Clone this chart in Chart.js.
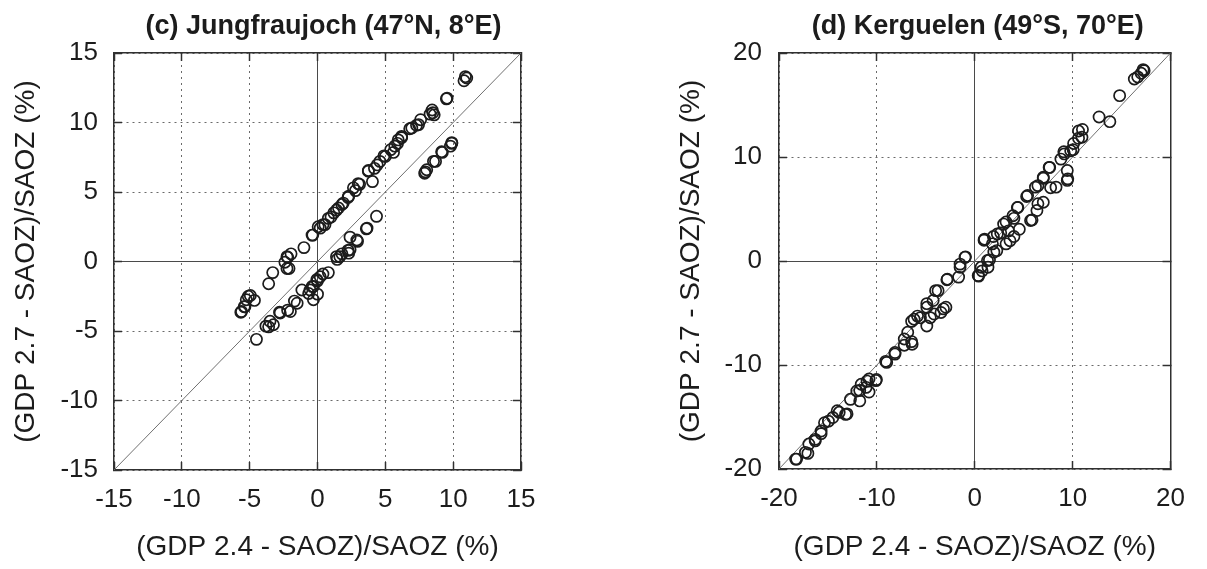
<!DOCTYPE html>
<html>
<head>
<meta charset="utf-8">
<script src="https://cdn.jsdelivr.net/npm/chart.js@4"></script>
<style>
    html, body { margin: 0; padding: 0; background: #fff; }
    #wrap { position: relative; width: 1207px; height: 569px; overflow: hidden; background: #fff; }
    #wrap canvas { position: absolute; top: 0; }
    #jung { left: 0; }
    #kerg { left: 600px; }
</style>
</head>
<body>
<div id="wrap">
    <canvas id="jung" width="600" height="569"></canvas>
    <canvas id="kerg" width="607" height="569"></canvas>
</div>
<script>
'use strict'

// ── Data ───────────────────────────────────────────────────────────────────
// (c) Jungfraujoch: x = (GDP 2.4 - SAOZ)/SAOZ, y = (GDP 2.7 - SAOZ)/SAOZ, in %
const jungTicks = [-15, -10, -5, 0, 5, 10, 15]
const jungX = [
    11.0, 10.8, 10.9, 9.5, 9.55, 8.5, 8.6, 8.3, 8.45, 7.6,
    7.45, 7.3, 6.95, 6.8, 6.2, 6.2, 5.95, 5.9, 5.7, 5.6,
    5.4, 5.0, 4.9, 4.6, 4.4, 4.2, 3.75, 3.75, 4.05, 3.0,
    3.1, 2.8, 2.65, 2.3, 2.25, 1.9, 1.8, 1.55, 1.4, 1.2,
    1.0, 0.8, 0.55, 0.4, 0.2, 0.05, -0.35, -0.4, -1.0, -1.95,
    -2.2, -2.25, -2.4, -2.1, -2.25, -3.3, -3.6, -4.95, -5.1, -4.65,
    -5.25, -5.35, -5.4, -5.6, -5.65,
    9.9, 9.8, 9.9, 9.15, 9.2, 8.55, 8.7, 8.05, 7.9, 7.95,
    4.35, 3.6, 3.65, 2.95, 2.9, 2.4, 2.4, 2.25, 2.3, 1.8,
    1.65, 1.45, 1.4, 0.8, 0.4, 0.2, 0.0, -0.05, -0.3, -0.4,
    -0.55, -0.65, 0.0, -0.3, -1.15, -1.5, -1.7, -2.0, -2.2, -2.8,
    -2.75, -3.25, -3.5, -3.6, -3.8, -4.5
]
const jungY = [
    13.2, 13.0, 13.3, 11.7, 11.75, 10.7, 10.55, 10.6, 10.9, 10.2,
    9.85, 9.8, 9.6, 9.55, 9.0, 8.9, 8.75, 8.5, 8.3, 7.85,
    8.05, 7.55, 7.6, 7.2, 6.95, 6.7, 6.5, 6.55, 5.75, 5.6,
    5.55, 5.1, 5.3, 4.7, 4.6, 4.2, 4.1, 3.85, 3.7, 3.5,
    3.2, 3.1, 2.65, 2.65, 2.4, 2.5, 1.9, 1.9, 1.0, 0.55,
    0.3, 0.35, -0.05, -0.5, -0.5, -0.8, -1.6, -2.45, -2.5, -2.8,
    -2.75, -3.25, -3.25, -3.6, -3.65,
    8.55, 8.3, 8.5, 7.9, 7.85, 7.2, 7.2, 6.6, 6.35, 6.45,
    3.25, 2.35, 2.4, 1.45, 1.55, 1.75, 0.85, 0.8, 0.6, 0.55,
    0.35, 0.15, 0.35, -0.8, -0.9, -1.1, -1.4, -1.3, -1.8, -1.8,
    -2.05, -2.3, -2.35, -2.75, -2.05, -3.0, -2.85, -3.6, -3.5, -3.65,
    -3.7, -4.55, -4.3, -4.7, -4.65, -5.6
]

// (d) Kerguelen
const kergTicks = [-20, -10, 0, 10, 20]
const kergX = [
    17.3, 17.2, 17.0, 16.65, 16.3, 14.8, 12.7, 13.8, 10.95, 10.6,
    11.0, 10.6, 10.1, 10.05, 9.8, 9.1, 9.15, 8.8, 9.5, 9.45,
    9.45, 8.3, 7.75, 7.65, 7.6, 7.0, 7.0, 6.45, 6.2, 5.4,
    5.3, 4.4, 4.35, 3.9, 4.0, 7.0, 6.45, 6.35, 5.85, 5.7,
    4.55, 2.95, 3.2, 3.45, 3.6, 4.0, 3.2, 2.3, 2.65, 1.9,
    1.8, 1.0, 0.95, 1.95, 2.25, 1.3, 1.5, 1.35, 0.65, 0.75,
    0.35, 0.4, -0.95, -1.0, -1.5, -1.5, -1.65, -2.8, -2.85, -3.75,
    -4.0, -4.25, -4.9, -4.9, -2.95, -3.2, -3.45, -4.15, -4.55, -5.55,
    -5.85, -4.9, -6.2, -6.45, -6.85, -7.2, -6.4, -6.45, -7.2, -8.15,
    -8.15, -9.0, -9.1, -10.1, -10.05, -10.8, -11.0, -11.6, -12.05, -11.75,
    -11.75, -10.8, -11.1, -12.7, -13.2, -13.05, -14.05, -13.85, -14.5, -14.95,
    -15.35, -15.7, -15.7, -16.3, -16.3, -16.95, -17.05, -17.3, -18.2, -18.3
]
const kergY = [
    18.3, 18.4, 18.05, 17.7, 17.5, 15.9, 13.85, 13.4, 11.9, 12.5,
    12.65, 11.8, 11.3, 10.7, 10.6, 10.5, 10.3, 9.8, 7.9, 8.7,
    7.75, 7.1, 7.05, 9.0, 9.0, 8.05, 7.95, 7.25, 7.1, 6.3,
    6.2, 5.15, 5.15, 4.35, 4.1, 5.65, 5.5, 4.85, 3.95, 3.9,
    3.05, 3.55, 3.75, 2.9, 1.95, 2.35, 1.65, 2.6, 2.7, 2.35,
    1.65, 2.1, 2.0, 0.85, 1.0, 0.05, 0.1, -0.6, -0.6, -0.95,
    -1.4, -1.45, 0.4, 0.35, -0.3, -0.6, -1.55, -1.75, -1.8, -2.85,
    -2.85, -3.8, -4.45, -4.1, -4.45, -4.6, -4.95, -5.1, -5.45, -5.45,
    -5.3, -6.25, -5.6, -5.8, -6.85, -7.5, -8.0, -7.75, -8.1, -8.8,
    -8.95, -9.75, -9.65, -11.5, -11.4, -11.35, -11.55, -11.85, -12.5, -12.45,
    -13.45, -12.6, -12.15, -13.3, -14.75, -14.7, -14.4, -14.55, -15.05, -15.4,
    -15.55, -16.35, -16.6, -17.15, -17.3, -17.6, -18.5, -18.4, -19.05, -19.05
]

const xTitle = '(GDP 2.4 - SAOZ)/SAOZ (%)'
const yTitle = '(GDP 2.7 - SAOZ)/SAOZ (%)'

// ── Style ──────────────────────────────────────────────────────────────────
const FONT = '"Liberation Sans", Arial, Helvetica, sans-serif'
const INK = '#1c1c1c'
const FRAME = '#303030'

const isZero = c => c.tick && c.tick.value === 0
const gridColor = c => isZero(c) ? '#4a4a4a' : '#6a6a6a'
const gridDash = c => isZero(c) ? [] : [2, 4]

// panel title, centred on the plot box (the built-in title spans the whole canvas)
const panelTitle = {
    id: 'panelTitle',
    afterDraw(chart, args, opts) {
        const { ctx, chartArea } = chart
        ctx.save()
        ctx.font = `bold ${opts.size}px ${FONT}`
        ctx.fillStyle = INK
        ctx.textAlign = 'center'
        ctx.textBaseline = 'middle'
        ctx.fillText(opts.text, (chartArea.left + chartArea.right) / 2 + opts.dx, opts.y)
        ctx.restore()
    }
}

// ── Chart factory ──────────────────────────────────────────────────────────
function scatterPanel(canvasId, o) {
    const lo = o.ticks[0]
    const hi = o.ticks[o.ticks.length - 1]
    const step = o.ticks[1] - o.ticks[0]
    const points = o.xs.map((x, i) => ({ x, y: o.ys[i] }))
    const oneToOne = [lo, hi].map(v => ({ x: v, y: v }))

    const inwardTicks = { tickLength: -8, tickColor: FRAME, tickWidth: 1.5 }
    const frame = { display: true, color: FRAME, width: 1.5 }

    return new Chart(document.getElementById(canvasId), {
        type: 'scatter',
        data: {
            datasets: [
                {
                    type: 'line',
                    data: oneToOne,
                    borderColor: '#707070',
                    borderWidth: 1,
                    pointRadius: 0,
                    order: 2
                },
                {
                    data: points,
                    pointStyle: 'circle',
                    pointRadius: 5.6,
                    borderWidth: 1.7,
                    borderColor: INK,
                    backgroundColor: 'rgba(255,255,255,0)',
                    order: 1
                }
            ]
        },
        options: {
            responsive: false,
            animation: false,
            events: [],
            layout: { padding: { top: 53, right: o.padRight, left: 0, bottom: 0 } },
            plugins: {
                legend: { display: false },
                tooltip: { enabled: false },
                panelTitle: { text: o.title, dx: o.titleDx, y: 27, size: 27 }
            },
            scales: {
                x: {
                    type: 'linear', position: 'bottom', min: lo, max: hi,
                    afterFit: s => { s.height = o.xAxisHeight },
                    ticks: {
                        stepSize: step, autoSkip: false, maxRotation: 0, padding: 22,
                        color: INK, font: { family: FONT, size: 26 }
                    },
                    grid: { color: gridColor, lineWidth: 1, ...inwardTicks },
                    border: { ...frame, dash: gridDash },
                    title: {
                        display: true, text: xTitle, color: INK,
                        font: { family: FONT, size: 28 }, padding: { top: 0, bottom: 5 }
                    }
                },
                y: {
                    type: 'linear', position: 'left', min: lo, max: hi,
                    afterFit: s => { s.width = o.yAxisWidth },
                    ticks: {
                        stepSize: step, autoSkip: false, padding: o.yTickPad,
                        color: INK, font: { family: FONT, size: 26 }
                    },
                    grid: { color: gridColor, lineWidth: 1, ...inwardTicks },
                    border: { ...frame, dash: gridDash },
                    title: {
                        display: true, text: yTitle, color: INK,
                        font: { family: FONT, size: 28 }, padding: { top: o.yTitlePad, bottom: 0 }
                    }
                },
                // mirrored frame + inward ticks on top and right, gnuplot style
                x2: {
                    type: 'linear', position: 'top', min: lo, max: hi,
                    afterFit: s => { s.height = 0 },
                    ticks: { stepSize: step, display: false },
                    grid: { drawOnChartArea: false, ...inwardTicks },
                    border: frame
                },
                y2: {
                    type: 'linear', position: 'right', min: lo, max: hi,
                    afterFit: s => { s.width = 0 },
                    ticks: { stepSize: step, display: false },
                    grid: { drawOnChartArea: false, ...inwardTicks },
                    border: frame
                }
            }
        },
        plugins: [panelTitle]
    })
}

// ── Panels ─────────────────────────────────────────────────────────────────
scatterPanel('jung', {
    xs: jungX, ys: jungY, ticks: jungTicks,
    title: '(c) Jungfraujoch (47°N, 8°E)', titleDx: 6,
    yAxisWidth: 114, yTickPad: 24, yTitlePad: 9,
    xAxisHeight: 99, padRight: 79
})

scatterPanel('kerg', {
    xs: kergX, ys: kergY, ticks: kergTicks,
    title: '(d) Kerguelen (49°S, 70°E)', titleDx: 3,
    yAxisWidth: 179, yTickPad: 25, yTitlePad: 74,
    xAxisHeight: 100, padRight: 19
})
</script>
</body>
</html>
